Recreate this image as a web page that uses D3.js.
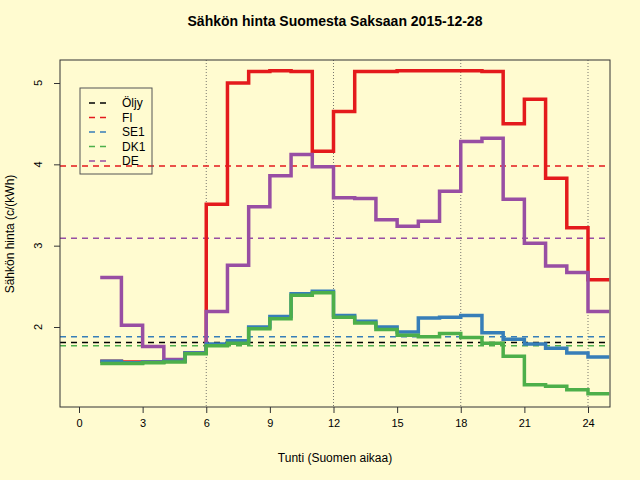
<!DOCTYPE html>
<html lang="en">
<head>
<meta charset="UTF-8">
<title>Sähkön hinta</title>
<script src="https://d3js.org/d3.v7.min.js"></script>
<style>
  body { margin: 0; background: #fffbd0; }
  text { font-family: "Liberation Sans", Arial, sans-serif; }
</style>
</head>
<body>
<svg width="640" height="480"></svg>
<script>
    // hourly prices, hour 1..24 (each step spans h..h+1)
    const hours = d3.range(1, 25);
    const fi  = [1.58,1.57,1.57,1.58,1.68,3.51,5.00,5.14,5.15,5.14,4.16,4.65,5.14,5.14,5.15,5.15,5.15,5.15,5.14,4.50,4.80,3.83,3.22,2.58];
    const de  = [2.61,2.02,1.76,1.60,1.68,2.19,2.76,3.48,3.86,4.12,3.97,3.59,3.58,3.32,3.24,3.30,3.67,4.28,4.32,3.57,3.03,2.75,2.67,2.19];
    const se1 = [1.58,1.56,1.57,1.58,1.68,1.79,1.83,2.00,2.13,2.41,2.44,2.14,2.07,2.00,1.94,2.11,2.12,2.14,1.93,1.85,1.79,1.74,1.68,1.63];
    const dk1 = [1.55,1.55,1.56,1.57,1.67,1.77,1.80,1.98,2.10,2.39,2.42,2.12,2.05,1.97,1.90,1.88,1.92,1.87,1.80,1.64,1.29,1.27,1.23,1.18];
    const names = ["Öljy", "FI", "SE1", "DK1", "DE"];
    const colors = ["#000000", "#e41a1c", "#377eb8", "#4daf4a", "#984ea3"];
    const averages = [1.81, 3.98, 1.88, 1.77, 3.09];
    const xTicks = [0, 3, 6, 9, 12, 15, 18, 21, 24];
    const yTicks = [2, 3, 4, 5];
    const vLines = [6, 12, 18, 24];

    const svg = d3.select("svg");
    const L = 60, R = 610, T = 60, B = 407;
    const x = d3.scaleLinear().domain([0, 24]).range([79, 588]);
    const y = d3.scaleLinear().domain([2, 5]).range([327, 83]);

    svg.append("text").attr("x", 335).attr("y", 26).attr("text-anchor", "middle")
        .attr("font-weight", "bold").attr("font-size", 14).text("Sähkön hinta Suomesta Saksaan 2015-12-28");

    // dotted hour lines
    svg.selectAll(".vl").data(vLines).enter().append("line")
        .attr("x1", d => x(d)).attr("x2", d => x(d)).attr("y1", T).attr("y2", B)
        .attr("stroke", "#555").attr("stroke-width", 0.8).attr("stroke-dasharray", "1,2");

    // average dashed lines
    svg.selectAll(".hl").data(averages).enter().append("line")
        .attr("x1", L).attr("x2", R).attr("y1", d => y(d)).attr("y2", d => y(d))
        .attr("stroke", (d, i) => colors[i]).attr("stroke-width", 1.5).attr("stroke-dasharray", "6,5");

    const line = d3.line().x(d => x(d[0])).y(d => y(d[1])).curve(d3.curveStepAfter);
    const series = [[fi, 1], [de, 4], [se1, 2], [dk1, 3]];
    series.forEach(([vals, ci]) => {
        const pts = hours.map((h, i) => [h, vals[i]]);
        pts.push([25, vals[vals.length - 1]]);
        svg.append("path").attr("d", line(pts)).attr("fill", "none")
            .attr("stroke", colors[ci]).attr("stroke-width", 3.5);
    });

    // box
    svg.append("rect").attr("x", L).attr("y", T).attr("width", R - L).attr("height", B - T)
        .attr("fill", "none").attr("stroke", "#333").attr("stroke-width", 1);

    // axes
    const xa = svg.append("g").attr("transform", `translate(0,${B})`)
        .call(d3.axisBottom(x).tickValues(xTicks).tickSize(6).tickPadding(6));
    xa.select(".domain").remove();
    xa.selectAll("text").attr("font-size", 11).attr("font-family", "Liberation Sans, Arial, sans-serif");
    xa.selectAll("line").attr("stroke", "#333");

    const ya = svg.append("g").attr("transform", `translate(${L},0)`)
        .call(d3.axisLeft(y).tickValues(yTicks).tickSize(6).tickFormat(""));
    ya.select(".domain").remove();
    ya.selectAll("line").attr("stroke", "#333");
    svg.selectAll(".ylab").data(yTicks).enter().append("text")
        .attr("transform", d => `translate(42,${y(d)}) rotate(-90)`)
        .attr("text-anchor", "middle").attr("font-size", 11).text(d => d);

    svg.append("text").attr("x", 335).attr("y", 462).attr("text-anchor", "middle").attr("font-size", 12)
        .text("Tunti (Suomen aikaa)");
    svg.append("text").attr("transform", "translate(14,234) rotate(-90)").attr("text-anchor", "middle")
        .attr("font-size", 12).text("Sähkön hinta (c/(kWh)");

    // legend
    const lg = svg.append("g").attr("transform", "translate(80,88)");
    lg.append("rect").attr("width", 72).attr("height", 86).attr("fill", "none").attr("stroke", "#555");
    names.forEach((n, i) => {
        const yy = 15 + i * 14.5;
        lg.append("line").attr("x1", 9).attr("x2", 29).attr("y1", yy).attr("y2", yy)
            .attr("stroke", colors[i]).attr("stroke-width", 1.5).attr("stroke-dasharray", "6,5");
        lg.append("text").attr("x", 42).attr("y", yy).attr("dy", "0.35em").attr("font-size", 12).text(n);
    });
</script>
</body>
</html>
